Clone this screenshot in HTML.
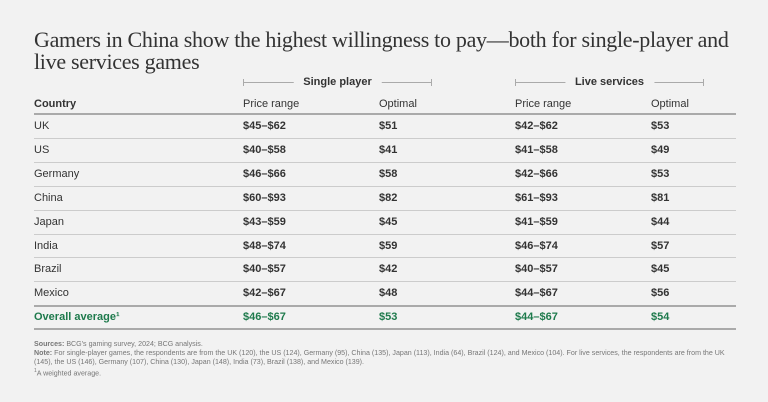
<!DOCTYPE html>
<html><head><meta charset="utf-8">
<style>
body{margin:0;width:768px;height:402px;background:#f2f2f2;position:relative;overflow:hidden;font-family:"Liberation Sans",sans-serif;color:#333}
.a{position:absolute;white-space:nowrap}
.t{font-family:"Liberation Serif",serif;font-size:22px;color:#333;left:34px;line-height:22px;letter-spacing:-0.3px}
.c{font-size:11px;line-height:12px}
.b{font-weight:bold}
.ln{position:absolute;left:34px;width:702px;background:#ccc;height:1px}
.thick{background:#aaa;height:2px}
.g{color:#1e7a4c}
.fn{font-size:7.1px;color:#777;left:34px;line-height:9px}
.gh{position:absolute;height:7px;border-left:1px solid #aaa;border-right:1px solid #aaa}
.gh:before{content:"";position:absolute;left:0;right:0;top:3px;border-top:1px solid #aaa;z-index:0}
.ghl{position:absolute;z-index:1;background:#f2f2f2;padding:0 10px;font-size:11px;line-height:12px;font-weight:bold;top:-3px;transform:translateX(-50%);color:#333}
</style></head><body>
<div class="a t" style="top:29px">Gamers in China show the highest willingness to pay—both for single-player and</div>
<div class="a t" style="top:51px">live services games</div>

<div class="gh" style="left:243px;width:187px;top:79px"><span class="ghl" style="left:50%">Single player</span></div>
<div class="gh" style="left:515px;width:187px;top:79px"><span class="ghl" style="left:50%">Live services</span></div>

<div class="a c b" style="left:34px;top:98px">Country</div>
<div class="a c" style="left:243px;top:98px">Price range</div>
<div class="a c" style="left:379px;top:98px">Optimal</div>
<div class="a c" style="left:515px;top:98px">Price range</div>
<div class="a c" style="left:651px;top:98px">Optimal</div>
<div class="ln thick" style="top:113px"></div>

<div id="rows"></div>

<div class="a fn" style="top:340px"><b>Sources:</b> BCG's gaming survey, 2024; BCG analysis.</div>
<div class="a fn" style="top:349px"><b>Note:</b> For single-player games, the respondents are from the UK (120), the US (124), Germany (95), China (135), Japan (113), India (64), Brazil (124), and Mexico (104). For live services, the respondents are from the UK</div>
<div class="a fn" style="top:358px">(145), the US (146), Germany (107), China (130), Japan (148), India (73), Brazil (138), and Mexico (139).</div>
<div class="a fn" style="top:367px"><sup style="font-size:5px">1</sup>A weighted average.</div>

<script>
const countries=["UK","US","Germany","China","Japan","India","Brazil","Mexico"];
const spRange=["$45–$62","$40–$58","$46–$66","$60–$93","$43–$59","$48–$74","$40–$57","$42–$67"];
const spOpt=["$51","$41","$58","$82","$45","$59","$42","$48"];
const lsRange=["$42–$62","$41–$58","$42–$66","$61–$93","$41–$59","$46–$74","$40–$57","$44–$67"];
const lsOpt=["$53","$49","$53","$81","$44","$57","$45","$56"];
const avg=["Overall average¹","$46–$67","$53","$44–$67","$54"];
const xs=[34,243,379,515,651];
const top0=115,rh=23.9;
const root=document.getElementById('rows');
function cell(txt,x,y,cls){const d=document.createElement('div');d.className='a c '+cls;d.style.left=x+'px';d.style.top=y+'px';d.textContent=txt;root.appendChild(d);return d;}
countries.forEach((c,i)=>{
  const y=top0+i*rh+5;
  const vals=[c,spRange[i],spOpt[i],lsRange[i],lsOpt[i]];
  vals.forEach((v,j)=>{
    const d=cell(v,xs[j],y,j?'b':'');
    
    
  });
  if(i<countries.length-1){
    const l=document.createElement('div');l.className='ln';l.style.top=(top0+(i+1)*rh-1)+'px';
    
    
    root.appendChild(l);
  }
});
const yAvgLine=top0+8*rh-1;
const l1=document.createElement('div');l1.className='ln thick';l1.style.top=yAvgLine+'px';


root.appendChild(l1);
avg.forEach((v,j)=>{
  const d=cell(v,xs[j],yAvgLine+6,'b g');
  
  
});
const l2=document.createElement('div');l2.className='ln thick';l2.style.top=(yAvgLine+23)+'px';


root.appendChild(l2);
</script>
</body></html>
